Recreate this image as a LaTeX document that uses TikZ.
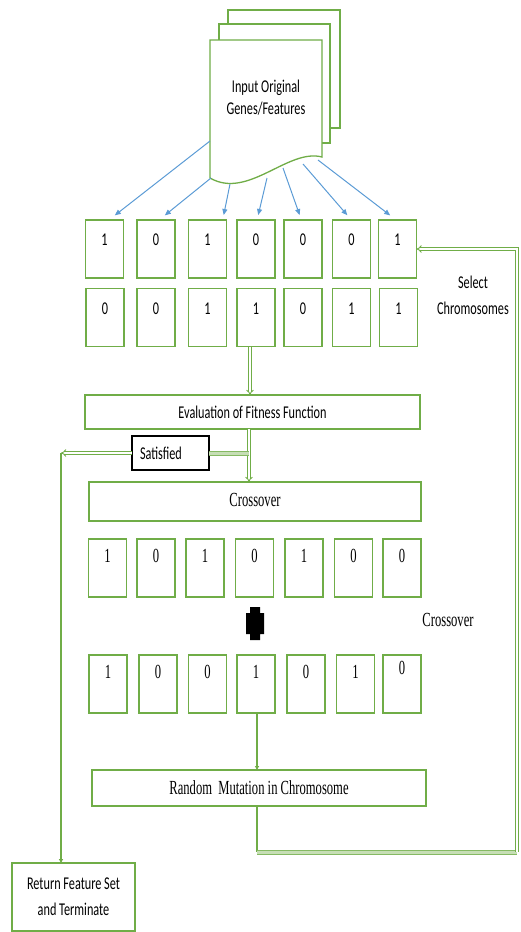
\documentclass[tikz,border=0pt]{standalone}
\usepackage{fontspec}
\setmainfont{Carlito}
\newfontfamily\sanscond[FakeStretch=0.68]{Carlito}
\newfontfamily\serifcond[FakeStretch=0.63]{Liberation Serif}
\usetikzlibrary{arrows.meta,calc}
\definecolor{gr}{RGB}{112,173,71}
\definecolor{bl}{RGB}{91,155,213}

\begin{document}
\begin{tikzpicture}[x=1pt,y=-1pt,
  every node/.style={inner sep=0pt, outer sep=0pt},
  sanstxt/.style={font=\sanscond\fontsize{18}{22}\selectfont},
  seriftxt/.style={font=\serifcond\fontsize{20}{22}\selectfont},
  gene/.style={draw=gr, line width=1.3pt, fill=white, minimum width=38pt, minimum height=58pt},
  bar/.style={draw=gr, line width=1.3pt, fill=white},
  docline/.style={draw=gr, line width=1.3pt, fill=white},
  feed/.style={draw=bl, line width=1pt, -{Triangle[length=6pt,width=5pt]}, shorten >=1pt},
  gline/.style={draw=gr, line width=1.3pt},
  garrow/.style={gline, -{Triangle[length=4pt,width=4pt]}},
  dline/.style={draw=gr, line width=0.9pt, double=white, double distance=1.6pt},
  fatlink/.style={draw=gr!85, line width=1pt, double=gr!40, double distance=3pt}
]
\useasboundingbox (0,0) rectangle (520,932);

% stacked document pages
\filldraw[docline] (228,10) rectangle (340,128);
\filldraw[docline] (219,24) rectangle (330,143);
\filldraw[docline] (210,40) -- (322,40) -- (322,157)
   .. controls (288,148) and (248,200) .. (210,178) -- cycle;
\node[sanstxt, align=center] (doc) at (266,98) {Input Original\\Genes/Features};

% first population: two chromosomes
\foreach \n/\x/\d in {1/104.5/1, 2/156/0, 3/207.5/1, 4/256/0, 5/303/0, 6/351.5/0, 7/397.5/1}
  \node[gene, label={[sanstxt,anchor=center,yshift=-20pt]north:\d}] (t\n) at (\x,249) {};
\foreach \n/\x/\d in {1/105/0, 2/156/0, 3/207.5/1, 4/256/1, 5/303/0, 6/351.5/1, 7/398.5/1}
  \node[gene, label={[sanstxt,anchor=center,yshift=-20pt]north:\d}] (u\n) at (\x,317.5) {};

% feeds from the input document
\coordinate (d1) at (210,141);
\coordinate (d2) at (211,178);
\coordinate (d3) at (230,184);
\coordinate (d4) at (267,178);
\coordinate (d5) at (283,168);
\coordinate (d6) at (303,164);
\coordinate (d7) at (318,160);
\draw[feed] (d1) -- ([xshift=9.5pt,yshift=4pt]t1.north);
\draw[feed] (d2) -- ([xshift=8pt,yshift=4pt]t2.north);
\draw[feed] (d3) -- ([xshift=16pt,yshift=4pt]t3.north);
\draw[feed] (d4) -- ([xshift=2pt,yshift=4pt]t4.north);
\draw[feed] (d5) -- ([xshift=-3pt,yshift=4pt]t5.north);
\draw[feed] (d6) -- ([xshift=-3.5pt,yshift=4pt]t6.north);
\draw[feed] (d7) -- ([xshift=-6.5pt,yshift=4pt]t7.north);

\node[sanstxt, align=center] (sel) at (473,295) {Select\\[4pt]Chromosomes};

% fitness and crossover
\node[bar, sanstxt, minimum width=335pt, minimum height=34pt] (eval) at (252.5,412) {Evaluation of Fitness Function};
\node[bar, seriftxt, minimum width=332pt, minimum height=39pt] (cross) at (255,501.5) {\raisebox{3pt}{Crossover}};
\node[draw=black, line width=1.2pt, fill=white, sanstxt, minimum width=77pt, minimum height=34pt,
      text width=61pt, align=left] (sat) at (170.5,453) {Satisfied};

\draw[dline, -{Implies}] ([xshift=-6pt]u4.south) -- ([xshift=-6pt]u4.south |- eval.north);
\coordinate (vx) at (249,451);
\draw[dline, -{Implies}] (vx |- eval.south) -- (vx |- cross.north);
\draw[fatlink] (vx |- sat.east) -- (sat.east);

% offspring chromosomes
\foreach \n/\x/\d in {1/107.5/1, 2/156/0, 3/205/1, 4/254.5/0, 5/304/1, 6/353.5/0, 7/402/0}
  \node[gene, label={[seriftxt,anchor=center,yshift=-17pt]north:\d}] (c\n) at (\x,568) {};
\foreach \n/\x/\d/\o in {1/108/1/17, 2/158/0/17, 3/207.5/0/17, 4/256/1/17, 5/306/0/17, 6/355.5/1/17, 7/402/0/13}
  \node[gene, label={[seriftxt,anchor=center,yshift=-\o pt]north:\d}] (k\n) at (\x,684) {};

% crossover marker: a fat black cross
\fill[black] (250,607) -- (260,607) -- (260,613) -- (264,613) -- (264,634) -- (260,634)
  -- (260,640) -- (250,640) -- (250,634) -- (246,634) -- (246,613) -- (250,613) -- cycle;
\node[seriftxt] (xl) at (448,620) {Crossover};

% mutation
\node[bar, seriftxt, minimum width=334pt, minimum height=36pt] (mut) at (259,788) {Random\ \ Mutation in Chromosome};
\draw[garrow] ([xshift=1pt]k4.south) -- ([xshift=1pt]k4.south |- mut.north);

% termination
\node[bar, sanstxt, align=center, minimum width=123pt, minimum height=68pt] (ret) at (73.5,897) {Return Feature Set\\[4pt]and Terminate};
\coordinate (lc) at (61,451);
\draw[dline, -{Implies}] (sat.west) -- (sat.west -| lc);
\draw[garrow] (sat.west -| lc) -- (lc |- ret.north);

% loop back to selection
\coordinate (lb) at (257,852);
\coordinate (rb) at (517,852);
\draw[gline] (mut.south -| lb) -- (lb);
\draw[fatlink] (lb) -- (rb);
\draw[dline, -{Implies}] (rb) |- (t7.east);
\end{tikzpicture}
\end{document}
